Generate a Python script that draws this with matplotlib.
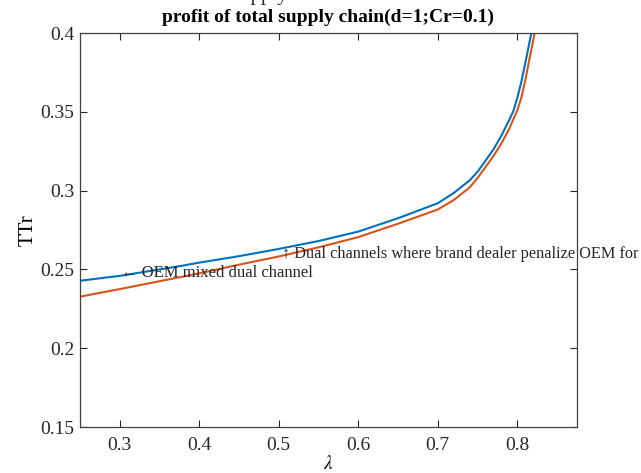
import matplotlib
matplotlib.use('Agg')
import matplotlib.pyplot as plt

# values
lam_mixed = [0.25, 0.30, 0.35, 0.376, 0.40, 0.45, 0.50, 0.55, 0.60, 0.65, 0.70,
             0.72, 0.74, 0.75, 0.76, 0.77, 0.78, 0.79, 0.795, 0.80, 0.805, 0.81,
             0.815, 0.818, 0.821]
ttr_mixed = [0.2428, 0.2459, 0.2500, 0.2521, 0.2543, 0.2584, 0.2630, 0.2680, 0.2740,
             0.2825, 0.2920, 0.2985, 0.3065, 0.3120, 0.3190, 0.3262, 0.3350, 0.3450,
             0.3505, 0.3590, 0.3690, 0.3810, 0.3935, 0.4010, 0.4090]
lam_penal = [0.25, 0.30, 0.35, 0.40, 0.45, 0.50, 0.55, 0.60, 0.65, 0.70, 0.72,
             0.74, 0.75, 0.76, 0.77, 0.78, 0.79, 0.80, 0.805, 0.81, 0.815, 0.82,
             0.823, 0.825]
ttr_penal = [0.2327, 0.2375, 0.2425, 0.2475, 0.2530, 0.2582, 0.2640, 0.2705, 0.2790,
             0.2880, 0.2940, 0.3020, 0.3080, 0.3150, 0.3220, 0.3300, 0.3395, 0.3510,
             0.3590, 0.3700, 0.3830, 0.3955, 0.4040, 0.4100]
xticks = [0.3, 0.4, 0.5, 0.6, 0.7, 0.8]
yticks = [0.15, 0.2, 0.25, 0.3, 0.35, 0.4]

serif = ['Liberation Serif', 'DejaVu Serif']
plt.rcParams['font.family'] = serif
plt.rcParams['mathtext.fontset'] = 'stix'

fig = plt.figure(figsize=(6.41, 4.73), dpi=100)
ax = fig.add_axes([80 / 641, 1 - 427 / 473, 497 / 641, 394 / 473])

ax.plot(lam_penal, ttr_penal, color='#D95319', lw=1.5, solid_joinstyle='round')
ax.plot(lam_mixed, ttr_mixed, color='#0072BD', lw=1.5, solid_joinstyle='round')

ax.set_xlim(0.25, 0.875)
ax.set_ylim(0.15, 0.4)
ax.set_xticks(xticks)
ax.set_yticks(yticks)
ax.set_xticklabels([f'{t:g}' for t in xticks])
ax.set_yticklabels([f'{t:g}' for t in yticks])
ax.tick_params(direction='in', length=5, width=0.8, colors='#262626',
               labelsize=14, top=True, right=True, pad=4)
ax.tick_params(axis='x', pad=7)
for s in ax.spines.values():
    s.set_color('#404040')
    s.set_linewidth(0.9)

ax.set_xlabel(r'$\lambda$', fontsize=14, labelpad=1)
ax.set_ylabel('TTr', fontsize=15, labelpad=2)
ax.set_title('profit of total supply chain(d=1;Cr=0.1)', fontsize=14,
             fontweight='bold', pad=8)

ax.text(0.302, 0.2477, '\u2190 OEM mixed dual channel', fontsize=12,
        va='center', ha='left', color='#262626')
ax.text(0.504, 0.2595, '\u2191 Dual channels where brand dealer penalize OEM for',
        fontsize=11.7, va='center', ha='left', color='#262626', clip_on=False)

# cut-off caption line at the very top of the picture
fig.text(232 / 641, 1.0, 'supply', fontsize=15, ha='left', va='baseline',
         color='#262626')

fig.savefig('out.png', dpi=100)
